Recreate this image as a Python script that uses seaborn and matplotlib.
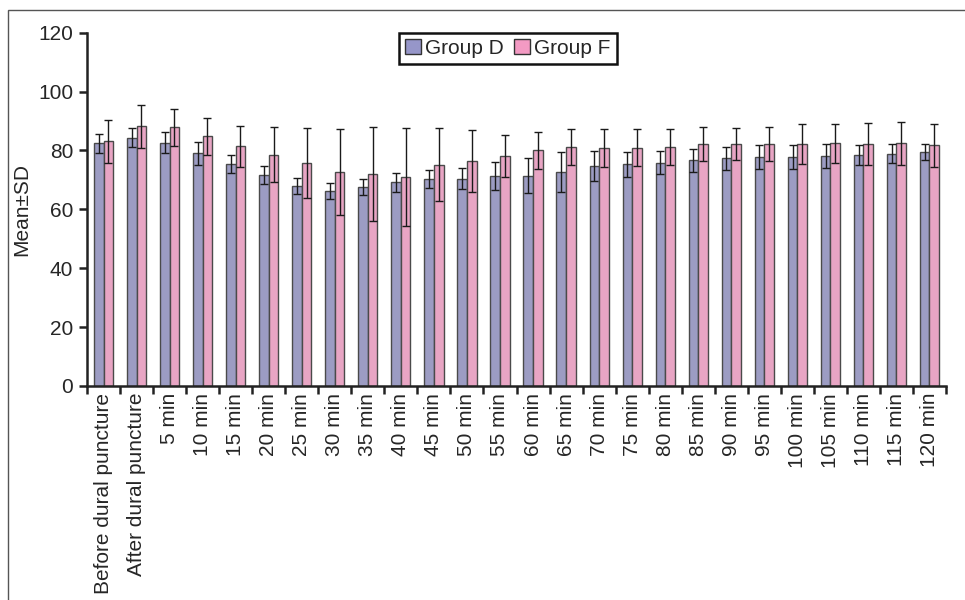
import numpy as np
import pandas as pd
import matplotlib
matplotlib.use("Agg")
import matplotlib.pyplot as plt
from matplotlib.patches import Rectangle, Patch
import seaborn as sns

# Time points
categories = ["Before dural puncture", "After dural puncture", "5 min", "10 min",
              "15 min", "20 min", "25 min", "30 min", "35 min", "40 min", "45 min",
              "50 min", "55 min", "60 min", "65 min", "70 min", "75 min", "80 min",
              "85 min", "90 min", "95 min", "100 min", "105 min", "110 min",
              "115 min", "120 min"]

# Mean values
group_d_mean = [82.4, 84.3, 82.6, 79.1, 75.3, 71.6, 68.0, 66.1, 67.6, 69.2, 70.3,
                70.4, 71.3, 71.4, 72.7, 74.7, 75.3, 75.9, 76.6, 77.4, 77.8, 77.8,
                78.2, 78.6, 78.9, 79.6]
group_f_mean = [83.1, 88.2, 87.8, 84.8, 81.4, 78.6, 75.6, 72.8, 72.0, 70.9, 75.2,
                76.5, 78.1, 80.0, 81.2, 80.8, 81.0, 81.2, 82.1, 82.1, 82.2, 82.2,
                82.4, 82.2, 82.4, 81.8]

# Standard deviations
group_d_sd = [3.2, 3.2, 3.6, 3.9, 3.0, 3.0, 2.8, 2.7, 2.7, 3.2, 3.1, 3.6, 4.7, 6.0,
              6.9, 5.1, 4.3, 4.0, 4.0, 3.9, 4.2, 4.2, 4.0, 3.4, 3.2, 2.7]
group_f_sd = [7.4, 7.2, 6.2, 6.3, 7.0, 9.2, 11.9, 14.6, 15.8, 16.7, 12.3, 10.5, 7.0,
              6.3, 6.1, 6.5, 6.2, 6.0, 5.8, 5.5, 5.7, 6.8, 6.7, 7.0, 7.2, 7.3]

groups = ["Group D", "Group F"]
colors = {"Group D": "#9696C9", "Group F": "#F39AC3"}

df = pd.DataFrame({
    "time": categories * 2,
    "group": [groups[0]] * len(categories) + [groups[1]] * len(categories),
    "value": group_d_mean + group_f_mean,
})
sds = {"Group D": group_d_sd, "Group F": group_f_sd}

sns.set_style("white")
plt.rcParams["font.family"] = ["Liberation Sans", "DejaVu Sans"]
FS = 15

fig = plt.figure(figsize=(9.65, 6.0), dpi=100)
ax = fig.add_axes([0.0902, 0.3567, 0.8901, 0.5888])

sns.barplot(data=df, x="time", y="value", hue="group", order=categories,
            hue_order=groups, palette=colors, width=0.58, gap=0,
            edgecolor="#4a4a4a", linewidth=1.0, errorbar=None, ax=ax,
            legend=False)

# Mean ± SD error bars at each bar's centre
for container, g in zip(ax.containers, groups):
    xs = [p.get_x() + p.get_width() / 2 for p in container]
    hs = [p.get_height() for p in container]
    ax.errorbar(xs, hs, yerr=sds[g], fmt="none", ecolor="#1a1a1a",
                elinewidth=1.0, capsize=3.2, capthick=1.0, zorder=5)

ax.set_xlim(-0.5, len(categories) - 0.5)
ax.set_ylim(0, 120)
ax.set_yticks(np.arange(0, 121, 20))
ax.set_xticks(np.arange(len(categories)))
ax.set_xticklabels(categories, rotation=90, fontsize=FS)
ax.set_xticks(np.arange(-0.5, len(categories), 1), minor=True)
ax.tick_params(axis="x", which="major", length=0, pad=5)
ax.tick_params(axis="x", which="minor", length=6, width=1.8, color="#222222",
               direction="out", bottom=True)
ax.tick_params(axis="y", which="major", length=6, width=1.8, color="#222222",
               direction="out", left=True, labelsize=FS, pad=4)
ax.set_xlabel("")
ax.set_ylabel("Mean±SD", fontsize=FS, labelpad=5)

for side in ["top", "right"]:
    ax.spines[side].set_visible(False)
for side in ["left", "bottom"]:
    ax.spines[side].set_color("#222222")
    ax.spines[side].set_linewidth(1.8)

handles = [Patch(facecolor=colors[g], edgecolor="#333333", linewidth=1.0) for g in groups]
leg = ax.legend(handles, groups, loc="upper center", bbox_to_anchor=(0.49, 1.0),
                ncol=2, fontsize=FS, frameon=True, fancybox=False,
                edgecolor="#111111", framealpha=1, handlelength=0.75,
                handleheight=0.75, handletextpad=0.2, columnspacing=0.5,
                borderpad=0.3, borderaxespad=0)
leg.get_frame().set_linewidth(1.8)

# Thin frame around the figure
fig.patches.append(Rectangle((8 / 965, -0.05), 1.2, 0.05 + 1 - 10 / 600,
                             transform=fig.transFigure, fill=False,
                             edgecolor="#555555", linewidth=1.0))

fig.savefig("out.png", dpi=100)
